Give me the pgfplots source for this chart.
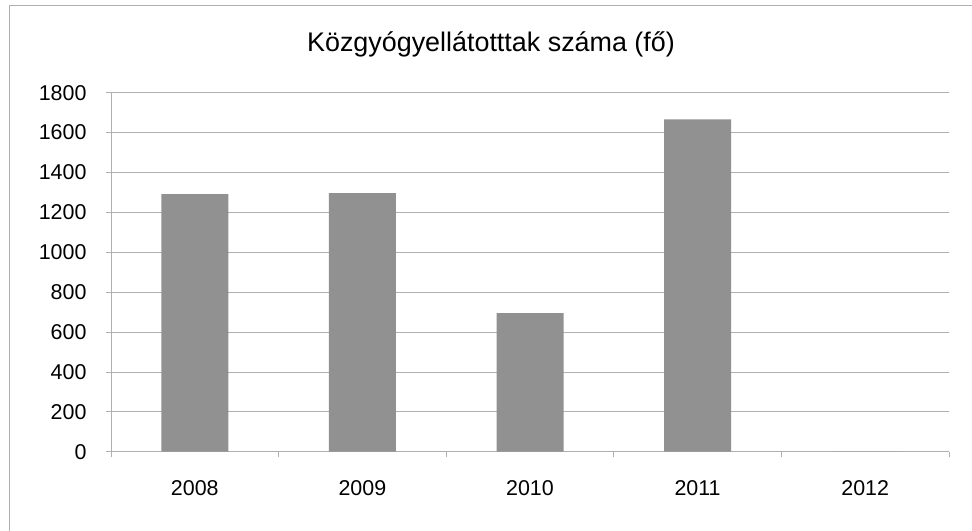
\documentclass[border=0pt]{standalone}
\usepackage{pgfplots}
\pgfplotsset{compat=1.18}
\usepackage{fontspec}
\setmainfont{Liberation Sans}
\definecolor{gridc}{RGB}{175,175,175}
\definecolor{barc}{RGB}{145,145,145}
\begin{document}
\begin{tikzpicture}
\path[use as bounding box] (0,0) rectangle (972bp,531bp);
\draw[gridc,line width=0.8bp] (9bp,0) -- (9bp,526bp) -- (972bp,526bp);
\node[font=\fontsize{27}{30}\selectfont] at (491bp,487bp) {Közgyógyellátotttak száma (fő)};
\begin{axis}[
  at={(111bp,79.3bp)}, anchor=south west,
  scale only axis, width=838bp, height=359bp,
  xmin=-0.5, xmax=4.5, ymin=0, ymax=1800,
  ytick={0,200,...,1800},
  xtick={0,1,2,3,4},
  xticklabels={2008,2009,2010,2011,2012},
  minor xtick={-0.5,0.5,1.5,2.5,3.5,4.5},
  axis x line*=bottom, axis y line*=left,
  axis line style={gridc,line width=0.8bp},
  ymajorgrids, grid style={gridc,line width=0.8bp},
  major x tick style={draw=none},
  minor x tick style={gridc,line width=0.8bp},
  y tick style={gridc,line width=0.8bp},
  tick align=outside,
  major tick length=5bp, minor tick length=5bp,
  ticklabel style={font=\fontsize{21.5}{25}\selectfont},
  yticklabel style={xshift=-16bp},
  xticklabel style={yshift=-20bp},
  /pgf/number format/assume math mode=true,
  /pgf/number format/1000 sep={},
  ybar, bar width=67bp,
]
\addplot[fill=barc, draw=none] coordinates {(0,1291) (1,1297) (2,695) (3,1666) (4,0)};
\end{axis}
\end{tikzpicture}
\end{document}
